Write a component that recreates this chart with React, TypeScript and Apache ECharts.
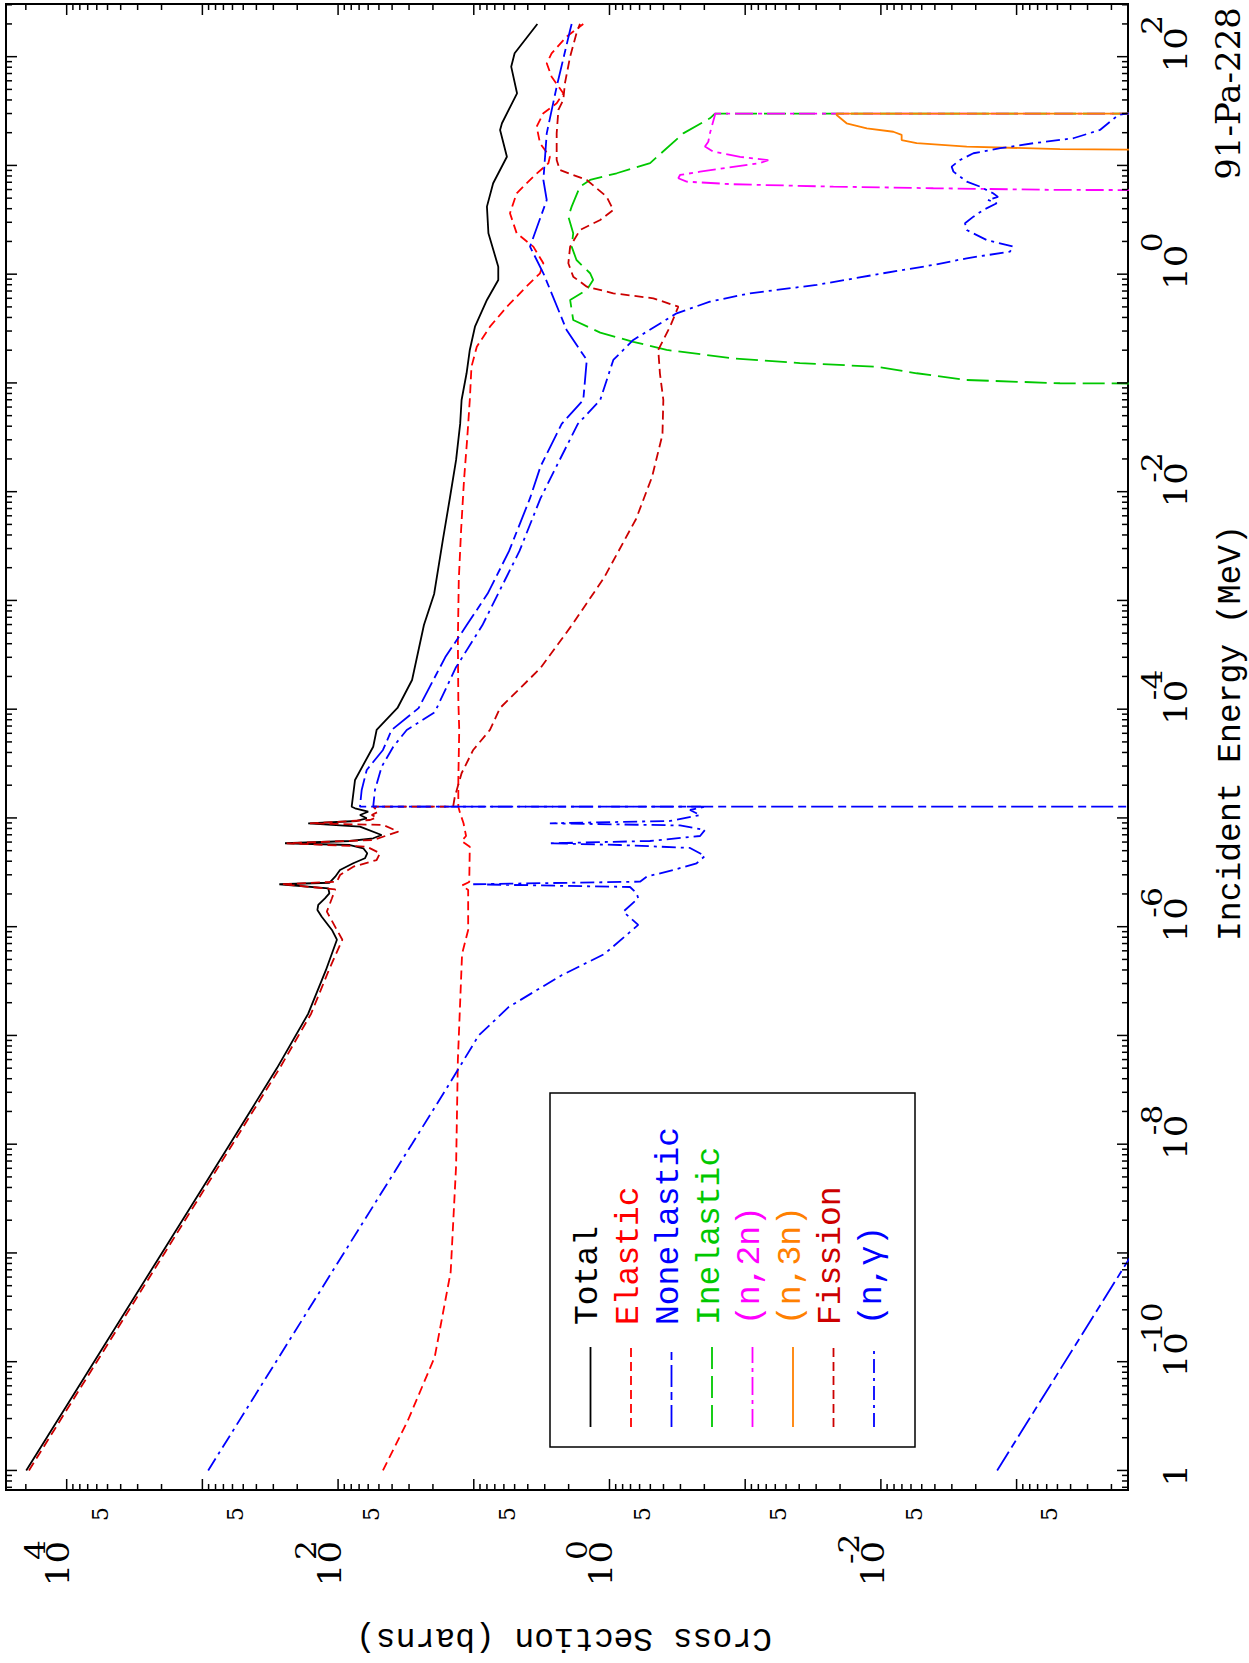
import React, { useEffect, useRef } from 'react';
import * as echarts from 'echarts';

type Pt = [number, number];

// Incident energy (MeV), cross section (barns)
const total: Pt[] = [
  [1e-11, 19860], [1e-10, 6280], [1e-9, 1986], [1e-8, 628], [5.01e-8, 282], [1.585e-7, 166], [3.98e-7, 123],
  [7.59e-7, 102], [9.33e-7, 111], [1.236e-6, 132], [1.426e-6, 142], [1.585e-6, 140], [1.824e-6, 125], [2.028e-6, 116],
  [2.254e-6, 118], [2.455e-6, 271], [2.535e-6, 116], [2.884e-6, 105], [3.319e-6, 96.8], [3.828e-6, 77.3], [4.256e-6, 63.4],
  [4.732e-6, 61.0], [5.26e-6, 65.2], [5.636e-6, 81.7], [5.848e-6, 246], [6.138e-6, 81.7], [6.5e-6, 55.1], [6.966e-6, 47.8],
  [8.318e-6, 69.0], [8.93e-6, 166], [9.376e-6, 72.9], [9.93e-6, 61.5], [1.064e-5, 69.0], [1.14e-5, 60.0], [1.227e-5, 75.0],
  [1.268e-5, 79.4], [2.234e-5, 75.0], [4.519e-5, 55.1], [6.442e-5, 52.0], [1.026e-4, 36.5], [1.854e-4, 28.5], [5.943e-4, 23.3],
  [1.146e-3, 19.6], [3.597e-3, 16.9], [8.75e-3, 15.0], [1.959e-2, 13.5], [4.198e-2, 12.6], [6.966e-2, 12.3], [0.1227, 11.3],
  [0.2009, 10.7], [0.3289, 9.8], [0.5794, 8.0], [0.885, 6.6], [1.172, 6.6], [2.377, 7.8], [4.178, 8.0], [6.855, 7.2],
  [12.02, 5.7], [21.18, 6.4], [24.43, 6.2], [46.03, 4.8], [80.91, 5.3], [107.4, 5.0], [200, 3.4],
];

const elastic: Pt[] = [
  [1e-11, 46.7], [2.911e-11, 30.5], [1.104e-10, 19.4], [6.68e-10, 14.8], [6.31e-9, 13.5], [5.94e-8, 13.1], [5.61e-7, 12.2],
  [9.33e-7, 11.0], [2.173e-6, 11.0], [2.393e-6, 12.2], [2.576e-6, 10.8], [5.445e-6, 10.7], [6.138e-6, 12.3], [6.823e-6, 11.4],
  [8.93e-6, 11.9], [1.104e-5, 12.6], [1.268e-5, 13.0], [2.234e-5, 13.0], [6.442e-5, 12.8], [1.216e-4, 13.0], [4.325e-4, 13.1],
  [1.542e-3, 12.9], [4.446e-3, 12.4], [1.282e-2, 11.8], [2.992e-2, 11.2], [6.966e-2, 10.7], [0.141, 10.4], [0.2153, 9.5],
  [0.3289, 7.6], [0.5023, 5.7], [0.7674, 4.1], [1.019, 3.25], [1.259, 3.07], [1.791, 3.64], [2.377, 4.83], [3.631, 5.41],
  [5.546, 4.83], [7.889, 3.64], [10.47, 2.82], [12.02, 2.75], [16.0, 3.25], [22.7, 3.44], [30.2, 3.07], [37.24, 2.45],
  [46.03, 2.19], [65.46, 2.67], [86.9, 2.9], [107.4, 2.67], [152.8, 2.07], [200, 1.56],
];

const nonelastic: Pt[] = [
  [1e-11, 1.39e-3], [1e-9, 1.39e-4], [1e-7, 1.39e-5], [1.268e-5, 1.24e-6], [1.2681e-5, 69.0], [1.807e-5, 67.0],
  [2.761e-5, 61.5], [4.217e-5, 46.7], [6.442e-5, 40.3], [1.023e-4, 25.5], [3.013e-4, 16.2], [5.902e-4, 11.3],
  [1.156e-3, 7.9], [2.838e-3, 5.5], [8.71e-3, 3.85], [1.71e-2, 3.22], [4.198e-2, 2.25], [6.966e-2, 1.56], [0.1626, 1.47],
  [0.2009, 1.65], [0.3069, 2.07], [1.019, 3.07], [1.791, 3.85], [4.808, 2.9], [7.345, 3.07], [19.72, 2.9], [52.97, 2.45],
  [175.8, 1.95], [200, 1.9],
];

const inelastic: Pt[] = [
  [0.0968, 1e-6], [0.0993, 4.79e-4], [0.1064, 2.33e-3], [0.1227, 5.45e-3], [0.141, 0.0107], [0.152, 0.0395], [0.168, 0.122],
  [0.201, 0.379], [0.239, 0.668], [0.29, 1.17], [0.379, 1.85], [0.579, 1.95], [0.716, 1.47], [0.885, 1.32], [1.02, 1.39],
  [1.35, 1.75], [1.79, 1.9], [2.38, 1.85], [3.38, 2.01], [4.18, 1.9], [6.38, 1.65], [7.35, 1.39], [8.47, 0.885],
  [10.5, 0.502], [19.7, 0.286], [27.1, 0.182], [30, 0.167], [30, 1e-6],
];

const n2n: Pt[] = [
  [5.88, 1e-6], [5.95, 4.79e-4], [6.17, 4.11e-3], [6.38, 0.0224], [6.71, 0.122], [7.09, 0.27], [7.62, 0.311], [8.17, 0.302],
  [8.76, 0.215], [10.5, 0.0778], [11.2, 0.0676], [12.0, 0.109], [13.4, 0.172], [14.9, 0.198], [16.5, 0.187], [19.7, 0.182],
  [29.1, 0.167], [30, 0.167], [30, 1e-6],
];

const n3n: Pt[] = [
  [13.4, 1e-6], [14.1, 4.79e-4], [14.9, 2.33e-3], [16.0, 5.45e-3], [17.1, 7.03e-3], [19.1, 7.03e-3], [20.4, 8.1e-3],
  [21.9, 0.0127], [24.4, 0.0179], [29.1, 0.0212], [30, 0.0212], [30, 1e-6],
];

const fission: Pt[] = [
  [1e-11, 18970], [1e-10, 6000], [1e-9, 1897], [1e-8, 600], [5.01e-8, 269], [1.585e-7, 158], [3.98e-7, 117], [7.59e-7, 93],
  [9.33e-7, 102], [1.374e-6, 121], [1.824e-6, 111], [2.208e-6, 105], [2.455e-6, 260], [2.594e-6, 102], [2.985e-6, 96.8],
  [3.565e-6, 77.2], [4.102e-6, 52.0], [4.732e-6, 49.1], [5.445e-6, 61.5], [5.848e-6, 239], [6.266e-6, 55.1], [7.482e-6, 36.0],
  [8.61e-6, 46.4], [8.93e-6, 161], [9.572e-6, 58.2], [1.014e-5, 52.0], [1.064e-5, 56.5], [1.14e-5, 50.6], [1.268e-5, 55.1],
  [1.2681e-5, 14.2], [1.567e-5, 13.8], [2.576e-5, 12.3], [4.217e-5, 10.1], [6.442e-5, 7.6], [1.026e-4, 6.4], [2.393e-4, 3.22],
  [5.943e-4, 1.89], [1.607e-3, 1.1], [5.61e-3, 0.637], [1.365e-2, 0.486], [3.35e-2, 0.407], [6.966e-2, 0.401], [0.1227, 0.425],
  [0.2009, 0.437], [0.3289, 0.358], [0.5023, 0.311], [0.5998, 0.475], [0.6668, 0.937], [0.7674, 1.47], [0.9484, 1.85],
  [1.259, 2.01], [1.791, 1.95], [2.547, 1.65], [3.148, 1.17], [3.89, 0.937], [5.164, 1.05], [7.345, 1.47], [9.078, 2.32],
  [11.22, 2.45], [19.72, 2.45], [32.36, 2.38], [39.99, 2.19], [56.89, 2.13], [100, 1.95], [164, 1.75], [200, 1.65],
];

const ngamma: Pt[] = [
  [1e-11, 906], [1e-10, 286.5], [1e-9, 90.6], [1e-8, 28.6], [3.162e-8, 16.1], [1e-7, 9.2], [1.828e-7, 5.52], [3.581e-7, 2.25],
  [5.61e-7, 1.09], [1.038e-6, 0.614], [1.374e-6, 0.791], [1.824e-6, 0.614], [2.028e-6, 0.631], [2.317e-6, 0.706],
  [2.455e-6, 10.1], [2.594e-6, 0.596], [2.884e-6, 0.532], [3.319e-6, 0.339], [3.828e-6, 0.228], [4.467e-6, 0.198],
  [5.297e-6, 0.255], [5.636e-6, 0.838], [5.848e-6, 2.75], [6.138e-6, 0.504], [6.823e-6, 0.215], [7.745e-6, 0.198],
  [8.531e-6, 0.302], [8.93e-6, 2.75], [9.376e-6, 0.358], [1.064e-5, 0.215], [1.183e-5, 0.255], [1.268e-5, 0.198],
  [1.2681e-5, 55.1], [1.807e-5, 53.5], [2.958e-5, 47.7], [4.519e-5, 39.2], [6.442e-5, 31.2], [9.354e-5, 19.4],
  [2.399e-4, 13.6], [5.902e-4, 8.65], [1.156e-3, 6.61], [2.838e-3, 4.61], [8.71e-3, 3.22], [1.71e-2, 2.46], [4.198e-2, 1.71],
  [6.966e-2, 1.17], [0.1626, 0.937], [0.2483, 0.668], [0.4365, 0.32], [0.5585, 0.182], [0.6668, 0.0922], [0.7962, 0.0297],
  [1.019, 0.00962], [1.216, 0.00411], [1.4, 0.00233], [1.611, 0.00112], [1.791, 0.00106], [2.061, 0.00166], [2.547, 0.00233],
  [2.938, 0.0024], [3.381, 0.00208], [3.89, 0.00176], [4.487, 0.0014], [4.819, 0.00163], [5.14, 0.00137], [5.546, 0.00149],
  [6.383, 0.00186], [7.096, 0.00233], [8.77, 0.00292], [9.75, 0.00301], [11.22, 0.00261], [12.94, 0.00208], [14.39, 0.00132],
  [16.0, 7.53e-4], [17.14, 4.79e-4], [17.78, 3.82e-4], [21.18, 2.43e-4], [29.1, 1.78e-4], [30, 1.54e-4], [30, 1e-6],
];

const seriesNames = ['Total', 'Elastic', 'Nonelastic', 'Inelastic', '(n,2n)', '(n,3n)', 'Fission', '(n,γ)'];
const seriesData = [total, elastic, nonelastic, inelastic, n2n, n3n, fission, ngamma];
const seriesColors = ['#000000', '#ff0000', '#0000ff', '#00c800', '#ff00ff', '#ff8000', '#cc0000', '#0000ff'];
const seriesDashes: (number[] | null)[] = [null, [9, 5], [22, 5, 8, 5], [22, 7], [18, 5, 4, 5], null, [9, 5], [14, 5, 3, 5]];

// axes
const E_MIN = 6.61e-12;
const E_MAX = 305;
const XS_MIN = 1.51e-4;
const XS_MAX = 2.8e4;
const energyDecades = [-12, -11, -10, -9, -8, -7, -6, -5, -4, -3, -2, -1, 0, 1, 2];
const xsDecades = [-4, -3, -2, -1, 0, 1, 2, 3, 4];
const energyTickLabels: [number, string, string][] = [
  [1e-11, '1', ''], [1e-10, '10', '-10'], [1e-8, '10', '-8'], [1e-6, '10', '-6'],
  [1e-4, '10', '-4'], [1e-2, '10', '-2'], [1, '10', '0'], [100, '10', '2'],
];
const xsTickLabels: [number, string, string][] = [[1e4, '10', '4'], [1e2, '10', '2'], [1, '10', '0'], [1e-2, '10', '-2']];
const xsFiveLabels = [5e3, 5e2, 5e1, 5, 5e-1, 5e-2, 5e-3, 5e-4];

function logTicks(decades: number[], min: number, max: number): [number, boolean][] {
  const out: [number, boolean][] = [];
  for (const d of decades) {
    for (let k = 1; k <= 9; k++) {
      const v = k * Math.pow(10, d);
      if (v >= min * 0.9999 && v <= max * 1.0001) out.push([v, k === 1]);
    }
  }
  return out;
}
const energyTicks = logTicks(energyDecades, E_MIN, E_MAX);
const xsTicks = logTicks(xsDecades, XS_MIN, XS_MAX);

const SERIF = 'DejaVu Serif';
const MONO = 'Liberation Mono';

function renderAxes(params: any, api: any) {
  const cs = params.coordSys;
  const L = cs.x, T = cs.y, R = cs.x + cs.width, B = cs.y + cs.height;
  const kids: any[] = [];
  const tick = (x1: number, y1: number, x2: number, y2: number) =>
    kids.push({ type: 'line', shape: { x1, y1, x2, y2 }, style: { stroke: '#000', lineWidth: 1.5 } });
  const txt = (x: number, y: number, text: string, size: number, align: string, sx: number) =>
    kids.push({
      type: 'text', x, y, scaleX: sx, scaleY: 1,
      style: {
        text, fill: '#000', fontSize: size, fontFamily: SERIF,
        align, verticalAlign: 'middle', textAlign: align, textVerticalAlign: 'middle',
      },
    });
  for (const [v, major] of energyTicks) {
    const px = api.coord([v, 1])[0];
    const len = major ? 11 : 6;
    tick(px, B, px, B - len);
    tick(px, T, px, T + len);
  }
  for (const [v, major] of xsTicks) {
    const py = api.coord([1, v])[1];
    const len = major ? 11 : 6;
    tick(L, py, L + len, py);
    tick(R, py, R - len, py);
  }
  for (const [v, base, exp] of energyTickLabels) {
    const px = api.coord([v, 1])[0];
    if (!exp) {
      txt(px - 4.6, B + 48, base, 31, 'center', 1.15);
      continue;
    }
    txt(px + 7, B + 48, base, 31, 'center', 1.15);
    txt(px + (exp.startsWith('-') ? 9 : 22), B + 24, exp, 28, 'left', 1.12);
  }
  for (const [v, base, exp] of xsTickLabels) {
    const py = api.coord([1, v])[1];
    txt(L - 73.5, py - 8, base, 31, 'center', 1.15);
    txt(L - (exp.startsWith('-') ? 74 : 70), py - 32, exp, 28, 'left', 1.12);
  }
  for (const v of xsFiveLabels) {
    const py = api.coord([1, v])[1];
    txt(L - 24, py - 7.5, '5', 22, 'center', 1);
  }
  return { type: 'group', children: kids };
}

function buildOption(): any {
  const lineSeries = seriesNames.map((name, i) => ({
    name,
    type: 'line',
    data: seriesData[i],
    showSymbol: false,
    symbol: 'none',
    smooth: false,
    silent: true,
    clip: true,
    lineStyle: {
      color: seriesColors[i],
      width: 1.8,
      type: seriesDashes[i] ? seriesDashes[i] : 'solid',
      cap: 'butt',
    },
    emphasis: { disabled: true },
    z: 2,
  }));

  const legendEls: any[] = [
    { type: 'rect', shape: { x: 216, y: 550, width: 354, height: 365 }, style: { fill: 'none', stroke: '#000', lineWidth: 1.5 } },
  ];
  seriesNames.forEach((name, i) => {
    const ly = 590.5 + 40.5 * i;
    const st: any = { stroke: seriesColors[i], lineWidth: 1.8 };
    if (seriesDashes[i]) st.lineDash = seriesDashes[i];
    legendEls.push({ type: 'line', shape: { x1: 236, y1: ly, x2: 316, y2: ly }, style: st });
    legendEls.push({
      type: 'text', x: 338, y: 588.5 + 40.5 * i,
      style: {
        text: name, fill: seriesColors[i], fontSize: 33, fontFamily: MONO,
        align: 'left', verticalAlign: 'middle', textAlign: 'left', textVerticalAlign: 'middle',
      },
    });
  });

  return {
    animation: false,
    backgroundColor: '#ffffff',
    grid: {
      left: 173, right: 4, top: 6, bottom: 121,
      show: true, borderColor: '#000', borderWidth: 2, backgroundColor: 'rgba(0,0,0,0)',
    },
    xAxis: {
      type: 'log', logBase: 10, min: E_MIN, max: E_MAX,
      axisLine: { show: false }, axisTick: { show: false }, axisLabel: { show: false }, splitLine: { show: false },
    },
    yAxis: {
      type: 'log', logBase: 10, min: XS_MIN, max: XS_MAX,
      axisLine: { show: false }, axisTick: { show: false }, axisLabel: { show: false }, splitLine: { show: false },
    },
    series: [
      ...lineSeries,
      {
        type: 'custom',
        coordinateSystem: 'cartesian2d',
        silent: true,
        clip: false,
        z: 5,
        data: [[1, 1]],
        renderItem: renderAxes,
      },
    ],
    graphic: {
      elements: [
        {
          type: 'text', x: 930, y: 1231,
          style: {
            text: 'Incident Energy (MeV)', fill: '#000', fontSize: 33, fontFamily: MONO,
            align: 'center', verticalAlign: 'middle', textAlign: 'center', textVerticalAlign: 'middle',
          },
        },
        {
          type: 'text', x: 26, y: 564, rotation: Math.PI / 2,
          style: {
            text: 'Cross Section (barns)', fill: '#000', fontSize: 33, fontFamily: MONO,
            align: 'center', verticalAlign: 'middle', textAlign: 'center', textVerticalAlign: 'middle',
          },
        },
        {
          type: 'text', x: 1656, y: 1228,
          style: {
            text: '91-Pa-228', fill: '#000', fontSize: 34, fontFamily: SERIF,
            align: 'right', verticalAlign: 'middle', textAlign: 'right', textVerticalAlign: 'middle',
          },
        },
        ...legendEls,
      ],
    },
  };
}

export default function App() {
  const ref = useRef<HTMLDivElement>(null);
  useEffect(() => {
    if (!ref.current) return;
    const chart = echarts.init(ref.current, null, { renderer: 'svg', width: 1663, height: 1249 });
    chart.setOption(buildOption());
    return () => chart.dispose();
  }, []);
  return (
    <div style={{ position: 'absolute', left: 0, top: 0, width: 1249, height: 1663, overflow: 'hidden', background: '#fff' }}>
      <div
        ref={ref}
        style={{
          position: 'absolute', left: 0, top: 0, width: 1663, height: 1249,
          transformOrigin: '0 0', transform: 'translateY(1663px) rotate(-90deg)',
        }}
      />
    </div>
  );
}
